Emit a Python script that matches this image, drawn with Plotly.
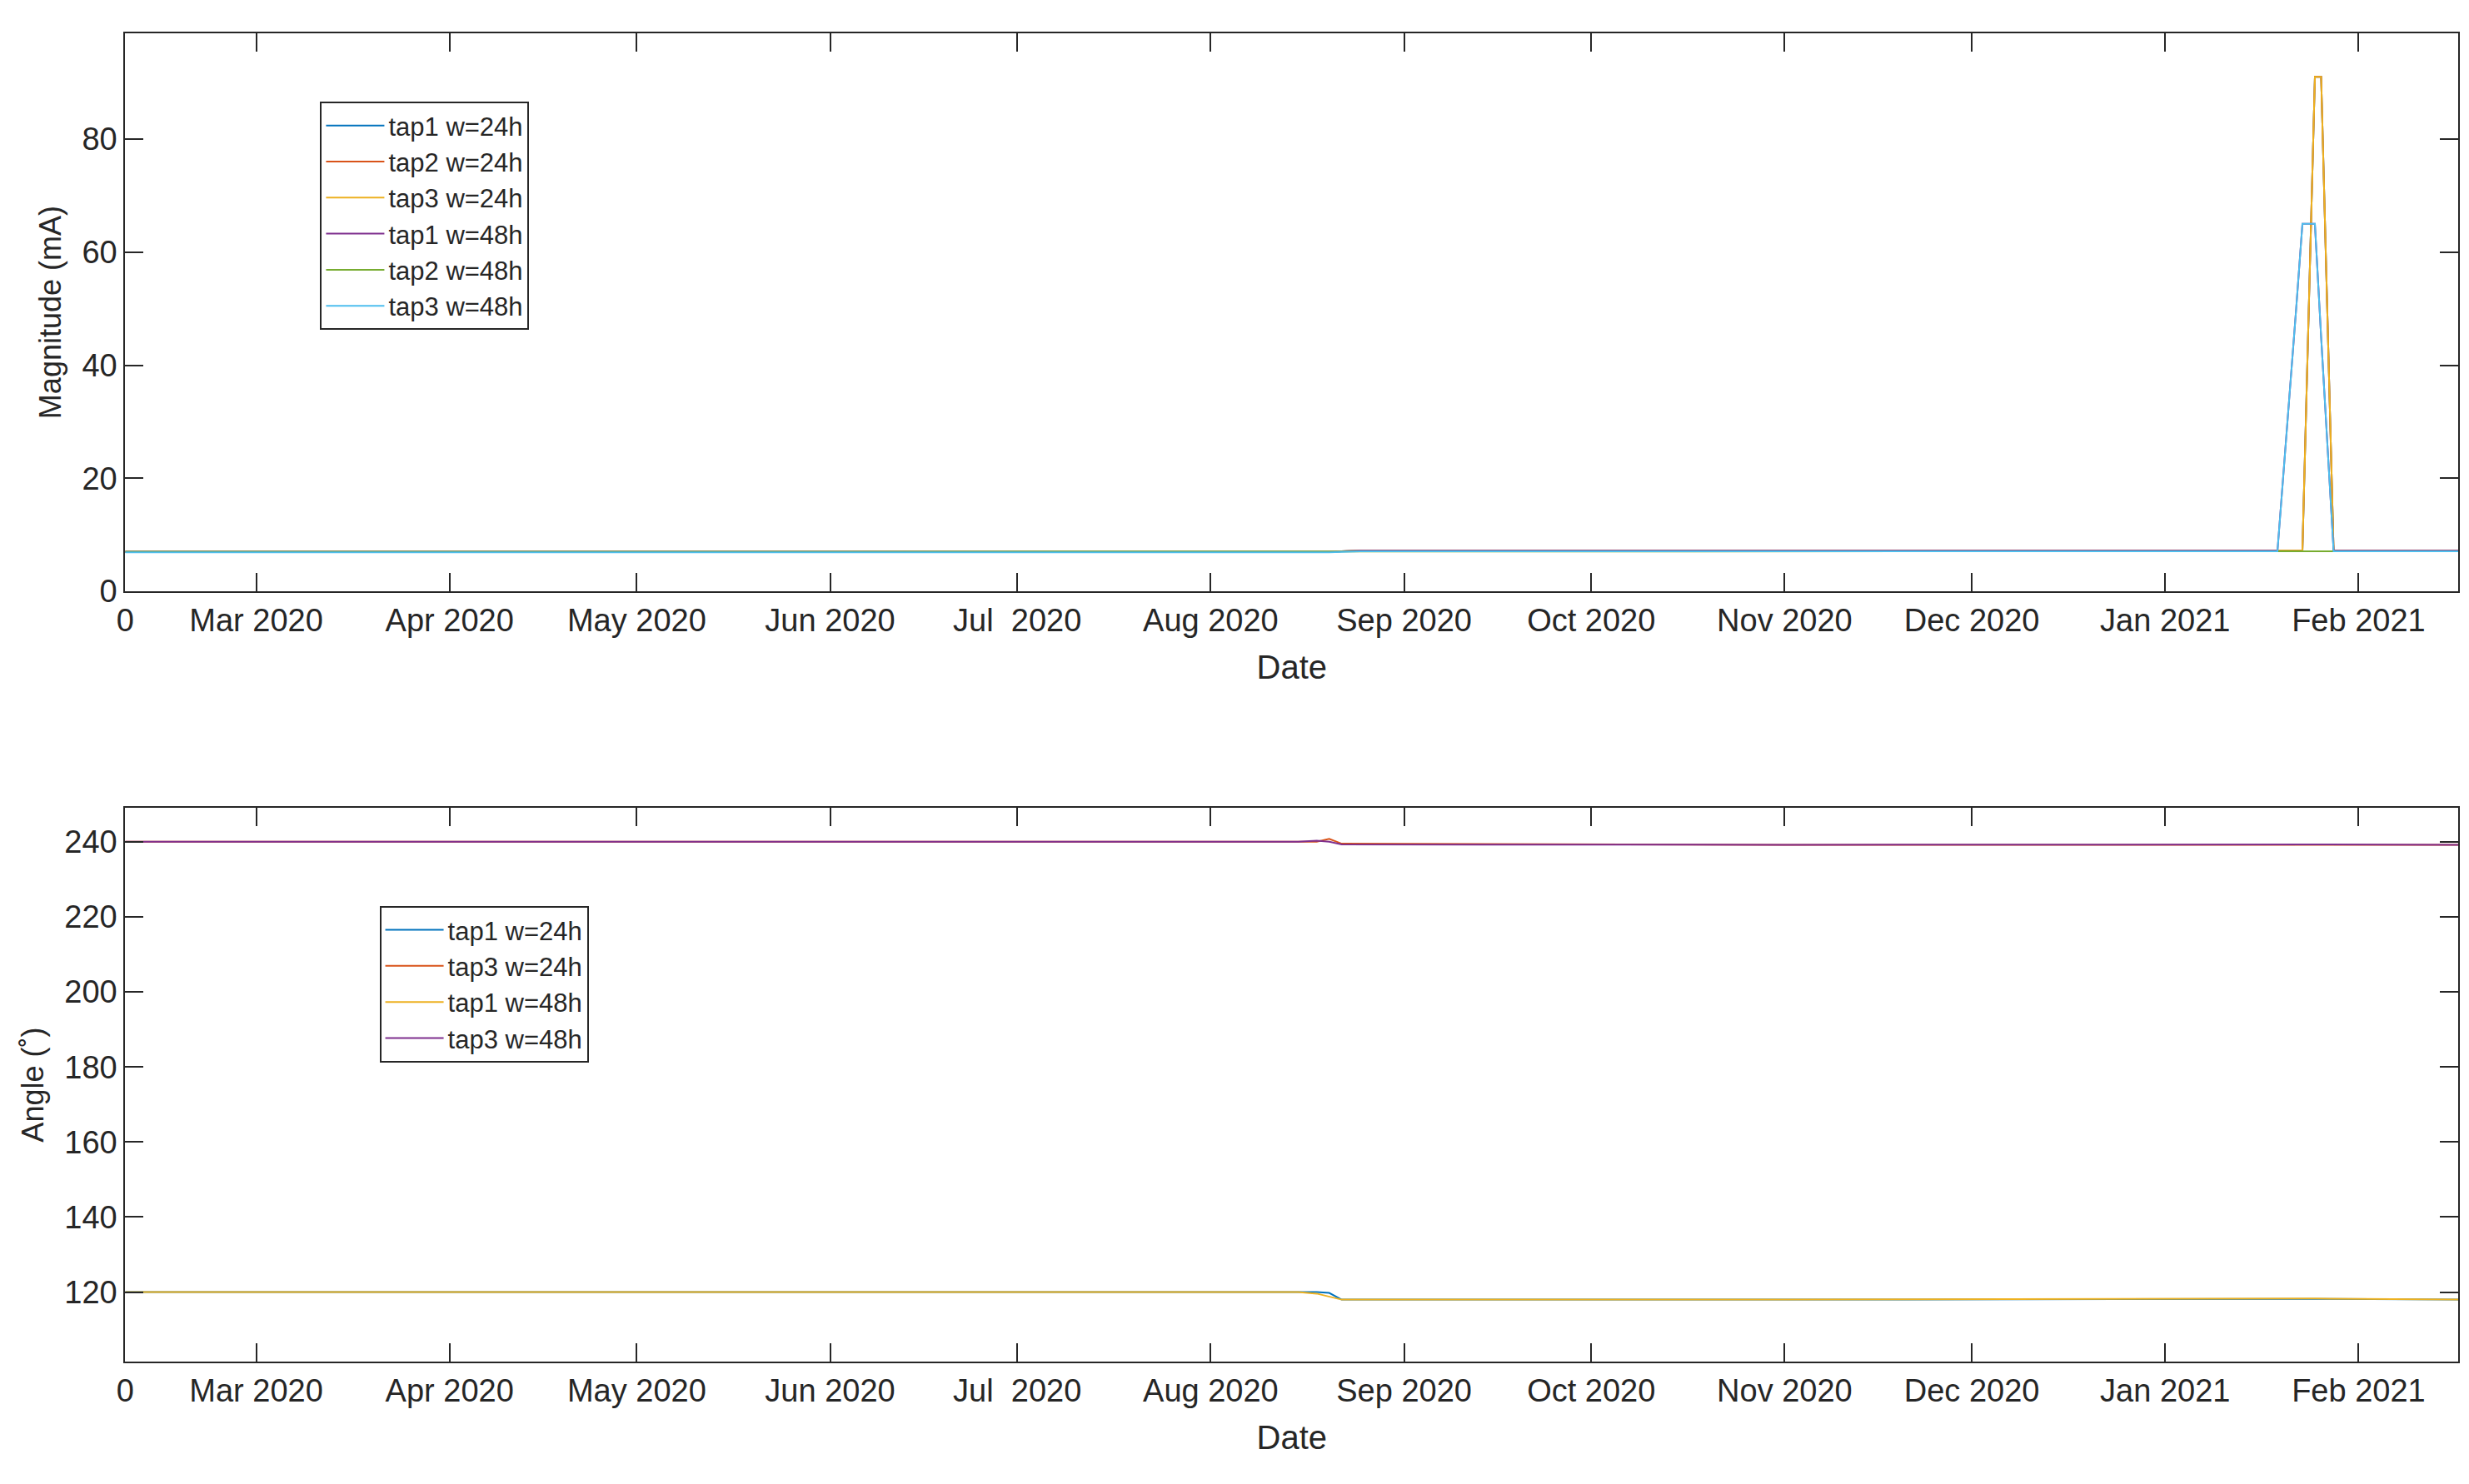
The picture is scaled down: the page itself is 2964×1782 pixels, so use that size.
import plotly.graph_objects as go

# Magnitude (mA), sampled key dates
mag_dates = ['2020-02-09', '2020-05-01', '2020-08-20', '2020-08-25', '2020-11-01',
             '2021-01-19', '2021-01-22', '2021-01-23', '2021-01-25', '2021-01-26',
             '2021-01-28', '2021-02-17']
tap1_24 = [7.0, 7.0, 7.0, 7.2, 7.2, 7.2, 7.2, 7.2, 91.0, 91.0, 7.2, 7.2]
tap2_24 = [7.0, 7.0, 7.0, 7.2, 7.2, 7.2, 7.2, 7.2, 91.0, 91.0, 7.2, 7.2]
tap3_24 = [7.0, 7.0, 7.0, 7.2, 7.2, 7.2, 7.2, 7.2, 91.0, 91.0, 7.2, 7.2]
tap1_48 = [7.0, 7.0, 7.0, 7.2, 7.2, 7.2, 50.0, 65.0, 65.0, 45.0, 7.2, 7.2]
tap3_48 = [6.9, 6.9, 6.9, 7.1, 7.1, 7.1, 50.0, 65.0, 65.0, 45.0, 7.1, 7.1]
tap2_48 = [7.0, 7.0, 7.0, 7.1, 7.1, 7.1, 7.1, 7.1, 7.1, 7.1, 7.1, 7.1]

# Angle (deg)
ang_dates = ['2020-02-09', '2020-05-01', '2020-08-15', '2020-08-18', '2020-08-20',
             '2020-08-22', '2020-11-01', '2021-01-25', '2021-02-17']
a_tap1_24 = [120.0, 120.0, 120.0, 120.0, 119.8, 118.0, 118.0, 118.2, 118.0]
a_tap3_24 = [240.0, 240.0, 240.0, 240.0, 240.8, 239.5, 239.2, 239.3, 239.2]
a_tap1_48 = [120.0, 120.0, 120.0, 119.6, 118.8, 118.0, 118.0, 118.3, 118.0]
a_tap3_48 = [240.0, 240.0, 240.0, 240.3, 240.0, 239.3, 239.2, 239.3, 239.2]

tick_vals = ['2020-02-09', '2020-03-01', '2020-04-01', '2020-05-01', '2020-06-01',
             '2020-07-01', '2020-08-01', '2020-09-01', '2020-10-01', '2020-11-01',
             '2020-12-01', '2021-01-01', '2021-02-01']
tick_text = ['0', 'Mar 2020', 'Apr 2020', 'May 2020', 'Jun 2020', 'Jul  2020',
             'Aug 2020', 'Sep 2020', 'Oct 2020', 'Nov 2020', 'Dec 2020',
             'Jan 2021', 'Feb 2021']

C = ['#0072BD', '#D95319', '#EDB120', '#7E2F8E', '#77AC30', '#4DBEEE']

fig = go.Figure()
top = [('tap1 w=24h', tap1_24, C[0]), ('tap2 w=24h', tap2_24, C[1]),
       ('tap3 w=24h', tap3_24, C[2]), ('tap1 w=48h', tap1_48, C[3]),
       ('tap2 w=48h', tap2_48, C[4]), ('tap3 w=48h', tap3_48, C[5])]
for name, ys, col in top:
    fig.add_trace(go.Scatter(x=mag_dates, y=ys, name=name, mode='lines',
                             line=dict(color=col, width=2), xaxis='x', yaxis='y',
                             legend='legend'))

bottom = [('tap1 w=24h', a_tap1_24, C[0]), ('tap3 w=24h', a_tap3_24, C[1]),
          ('tap1 w=48h', a_tap1_48, C[2]), ('tap3 w=48h', a_tap3_48, C[3])]
for name, ys, col in bottom:
    fig.add_trace(go.Scatter(x=ang_dates, y=ys, name=name, mode='lines',
                             line=dict(color=col, width=2), xaxis='x2', yaxis='y2',
                             legend='legend2'))

ax = dict(showline=True, mirror='ticks', linecolor='#262626', linewidth=2,
          ticks='inside', ticklen=22, tickwidth=2, tickcolor='#262626',
          showgrid=False, zeroline=False, automargin=False,
          tickfont=dict(size=38, color='#262626'))
xr = ['2020-02-09', '2021-02-17']
fig.update_layout(
    width=2964, height=1782, paper_bgcolor='white', plot_bgcolor='white',
    font=dict(family='Liberation Sans, Arial', color='#262626'),
    margin=dict(l=0, r=0, t=0, b=0),
    xaxis=dict(ax, domain=[0.048, 0.993], range=xr, tickvals=tick_vals,
               ticktext=tick_text, anchor='y',
               title=dict(text='Date', font=dict(size=40), standoff=22)),
    yaxis=dict(ax, domain=[0.606, 0.982], range=[0, 98.7], tickvals=[0, 20, 40, 60, 80],
               anchor='x', title=dict(text='Magnitude (mA)', font=dict(size=36), standoff=14)),
    xaxis2=dict(ax, domain=[0.048, 0.993], range=xr, tickvals=tick_vals,
                ticktext=tick_text, anchor='y2',
                title=dict(text='Date', font=dict(size=40), standoff=22)),
    yaxis2=dict(ax, domain=[0.087, 0.460], range=[101.5, 249],
                tickvals=[120, 140, 160, 180, 200, 220, 240], anchor='x2',
                title=dict(text='Angle (˚)', font=dict(size=36), standoff=14)),
    legend=dict(x=0.127, y=0.936, xanchor='left', yanchor='top',
                bordercolor='#262626', borderwidth=2, bgcolor='white',
                font=dict(size=31), tracegroupgap=0, itemwidth=70),
    legend2=dict(x=0.151, y=0.394, xanchor='left', yanchor='top',
                 bordercolor='#262626', borderwidth=2, bgcolor='white',
                 font=dict(size=31), tracegroupgap=0, itemwidth=70),
)

fig.write_html("out.html")
